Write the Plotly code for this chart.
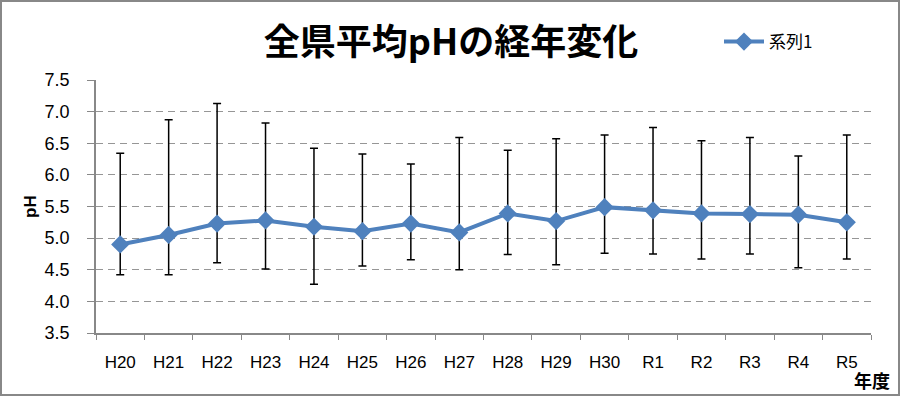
import plotly.graph_objects as go

years = ["H20", "H21", "H22", "H23", "H24", "H25", "H26", "H27",
         "H28", "H29", "H30", "R1", "R2", "R3", "R4", "R5"]
mean_ph = [4.90, 5.05, 5.23, 5.28, 5.18, 5.11, 5.23, 5.09,
           5.39, 5.27, 5.49, 5.44, 5.39, 5.38, 5.37, 5.25]
max_ph = [6.34, 6.87, 7.13, 6.82, 6.42, 6.33, 6.17, 6.59,
          6.39, 6.57, 6.63, 6.75, 6.54, 6.59, 6.30, 6.63]
min_ph = [4.42, 4.42, 4.61, 4.51, 4.27, 4.56, 4.66, 4.50,
          4.74, 4.58, 4.76, 4.75, 4.67, 4.75, 4.53, 4.67]
y_ticks = [3.5, 4.0, 4.5, 5.0, 5.5, 6.0, 6.5, 7.0, 7.5]

err_plus = [mx - m for mx, m in zip(max_ph, mean_ph)]
err_minus = [m - mn for m, mn in zip(mean_ph, min_ph)]

W, H = 900, 396
ML, MR, MT, MB = 96, 29, 80, 63
PW, PH = W - ML - MR, H - MT - MB

def px_x(x):
    return (x - ML) / PW

def px_y(y):
    return (H - MB - y) / PH

fig = go.Figure()
fig.add_trace(go.Scatter(
    x=years, y=mean_ph, name="系列1", mode="lines+markers",
    line=dict(color="#4F81BD", width=4),
    marker=dict(symbol="diamond", size=14, color="#4F81BD"),
    error_y=dict(type="data", symmetric=False, array=err_plus,
                 arrayminus=err_minus, color="#000000", thickness=1.5, width=4),
))

jp = "Noto Sans CJK JP"
fig.update_layout(
    width=W, height=H,
    margin=dict(l=ML, r=MR, t=MT, b=MB),
    plot_bgcolor="white", paper_bgcolor="white",
    font=dict(family="Liberation Sans, " + jp, size=15, color="#000000"),
    title=dict(text="<b>全県平均pHの経年変化</b>", x=451 / W,
               xanchor="center", y=1 - 42 / H, yanchor="middle",
               font=dict(family=jp, size=36, color="#000000")),
    showlegend=True,
    legend=dict(x=px_x(719), y=px_y(42), xanchor="left", yanchor="middle",
                font=dict(family=jp, size=17, color="#000000"),
                bgcolor="rgba(0,0,0,0)", itemwidth=40),
    xaxis=dict(type="category", tickson="boundaries", ticks="outside",
               ticklen=5, tickcolor="#888888", showline=True,
               linecolor="#888888", linewidth=1.5, showgrid=False,
               tickfont=dict(size=17), ticklabelstandoff=13,
               range=[-0.5, len(years) - 0.5]),
    yaxis=dict(range=[3.5, 7.5], tickvals=y_ticks,
               ticktext=[f"{v:.1f}" for v in y_ticks],
               ticks="outside", ticklen=7, tickcolor="#888888",
               showline=True, linecolor="#888888", linewidth=1.5,
               showgrid=True, gridcolor="#969696", griddash="7px,5px",
               gridwidth=1.2, tickfont=dict(size=18), ticklabelstandoff=14,
               zeroline=False),
    annotations=[
        dict(text="<b>pH</b>", x=px_x(30), y=px_y(207), xref="paper",
             yref="paper", showarrow=False, textangle=-90,
             xanchor="center", yanchor="middle",
             font=dict(size=17, family="Liberation Sans")),
        dict(text="<b>年度</b>", x=px_x(872), y=px_y(380), xref="paper",
             yref="paper", showarrow=False, xanchor="center", yanchor="middle",
             font=dict(size=18, family=jp)),
    ],
    shapes=[dict(type="rect", xref="paper", yref="paper",
                 x0=px_x(1), x1=px_x(899), y0=px_y(395), y1=px_y(1),
                 line=dict(color="#888888", width=2), layer="below")],
)

fig.write_html("out.html")
